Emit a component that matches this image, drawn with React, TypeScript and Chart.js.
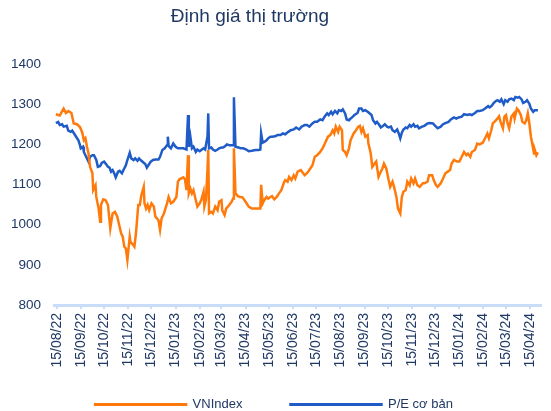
import React, { useEffect, useRef } from "react";
import { Chart, registerables } from "chart.js";

Chart.register(...registerables);

const TITLE = "Định giá thị trường";
const SERIES_NAMES = ["VNIndex", "P/E cơ bản"];
const BASE_DATE = "15/08/22"; // day 0 of the x values below

const tickLabels = [
  "15/08/22", "15/09/22", "15/10/22", "15/11/22", "15/12/22", "15/01/23", "15/02/23",
  "15/03/23", "15/04/23", "15/05/23", "15/06/23", "15/07/23", "15/08/23", "15/09/23",
  "15/10/23", "15/11/23", "15/12/23", "15/01/24", "15/02/24", "15/03/24", "15/04/24",
];

const Y_MIN = 800;
const Y_MAX = 1400;
const Y_STEP = 100;
const X_FIRST_DAY = -3.4; // 12/08/22
const X_LAST_DAY = 622.6; // ~29/04/24

// VNIndex: days since 15/08/22, and values
const vnDays = [
  -1, 4, 9, 12, 15, 19, 22, 26, 30, 33, 35, 37, 39, 41, 43, 46, 47, 50, 51, 54, 56, 57, 60, 63, 66, 68, 69, 72, 75, 78,
  80, 83, 85, 87, 89, 91, 94, 95, 97, 100, 102, 105, 107, 109, 112, 113, 115, 117, 119, 122, 125, 127, 131, 133, 135, 138,
  142, 144, 147, 150, 154, 156, 158, 163, 165, 167, 169, 170, 172, 174, 176, 179, 181, 184, 186, 189, 190, 192, 194, 195,
  196, 199, 201, 204, 207, 209, 212, 213, 216, 218, 222, 225, 227, 228, 230, 233, 236, 239, 243, 247, 251, 258, 262, 263,
  265, 267, 270, 272, 275, 277, 280, 283, 286, 289, 292, 294, 297, 299, 302, 305, 307, 310, 314, 319, 322, 325, 329, 332,
  335, 339, 342, 345, 349, 352, 355, 357, 359, 362, 364, 367, 368, 371, 373, 376, 378, 382, 385, 388, 390, 392, 394, 397,
  400, 401, 404, 406, 409, 411, 414, 416, 419, 421, 424, 427, 429, 432, 434, 437, 439, 442, 444, 446, 449, 451, 454, 456,
  459, 461, 464, 467, 471, 473, 477, 479, 483, 485, 488, 490, 494, 497, 500, 503, 506, 508, 511, 515, 518, 521, 524, 527,
  529, 532, 534, 538, 541, 544, 548, 551, 554, 556, 559, 561, 564, 566, 569, 571, 574, 576, 578, 580, 582, 585, 588, 589,
  592, 594, 597, 599, 602, 604, 606, 608, 610, 612, 614, 615, 617, 619,
];
const vnValues = [
  1275, 1272, 1289, 1278, 1283, 1278, 1252, 1250, 1243, 1229, 1210, 1215, 1194, 1177, 1144, 1128, 1086, 1098, 1069, 1040,
  1007, 1049, 1063, 1061, 1049, 1011, 991, 1028, 1032, 1020, 1003, 978, 970, 945, 941, 912, 970, 957, 953, 945, 978, 1049,
  1049, 1074, 1094, 1053, 1040, 1049, 1036, 1053, 1045, 1020, 1011, 987, 1016, 1028, 1053, 1069, 1053, 1057, 1069, 1107,
  1113, 1118, 1113, 1086, 1173, 1078, 1090, 1078, 1086, 1061, 1045, 1053, 1061, 1082, 1045, 1061, 1136, 1186, 1028, 1032,
  1028, 1045, 1036, 1057, 1061, 1036, 1024, 1040, 1049, 1057, 1065, 1190, 1078, 1071, 1069, 1068, 1057, 1045, 1040, 1040,
  1040, 1099, 1053, 1061, 1069, 1065, 1069, 1071, 1063, 1069, 1078, 1086, 1103, 1111, 1107, 1119, 1111, 1123, 1115, 1132,
  1136, 1123, 1128, 1136, 1148, 1169, 1173, 1181, 1190, 1202, 1219, 1223, 1235, 1227, 1244, 1231, 1244, 1235, 1186, 1181,
  1173, 1190, 1210, 1227, 1235, 1244, 1246, 1231, 1240, 1219, 1223, 1202, 1177, 1144, 1152, 1157, 1119, 1128, 1140, 1152,
  1140, 1111, 1094, 1107, 1094, 1069, 1040, 1028, 1069, 1082, 1086, 1107, 1098, 1115, 1103, 1115, 1098, 1094, 1103, 1103,
  1107, 1123, 1123, 1111, 1098, 1094, 1103, 1115, 1128, 1132, 1136, 1152, 1161, 1157, 1157, 1169, 1181, 1173, 1177, 1169,
  1181, 1186, 1202, 1200, 1204, 1215, 1227, 1215, 1235, 1252, 1258, 1262, 1270, 1256, 1240, 1269, 1273, 1252, 1240, 1269,
  1277, 1264, 1289, 1285, 1273, 1256, 1252, 1260, 1277, 1252, 1219, 1198, 1177, 1186, 1173, 1180,
];

// P/E cơ bản: days since 15/08/22, and values
const peDays = [
  -1, 2, 4, 7, 9, 13, 15, 18, 20, 23, 25, 28, 30, 31, 34, 35, 37, 39, 41, 43, 46, 48, 51, 53, 56, 58, 61, 63, 66, 68, 70,
  72, 74, 76, 79, 81, 84, 86, 89, 91, 94, 96, 99, 101, 104, 106, 109, 112, 114, 116, 118, 121, 124, 127, 131, 133, 136,
  139, 142, 143, 144, 147, 150, 153, 156, 158, 163, 167, 169, 170, 172, 174, 176, 179, 181, 184, 186, 189, 191, 194, 195,
  196, 199, 201, 204, 207, 209, 212, 214, 217, 219, 222, 224, 227, 228, 230, 234, 237, 240, 244, 247, 251, 256, 260, 262,
  263, 265, 267, 270, 272, 275, 277, 281, 284, 288, 291, 294, 298, 301, 305, 308, 312, 315, 319, 322, 325, 329, 332, 335,
  339, 342, 345, 348, 350, 353, 355, 358, 361, 363, 366, 368, 371, 373, 376, 378, 381, 383, 387, 389, 392, 394, 397, 400,
  402, 405, 407, 410, 412, 415, 417, 420, 422, 425, 427, 430, 432, 435, 438, 440, 442, 444, 446, 449, 451, 454, 456, 459,
  461, 464, 466, 470, 473, 477, 480, 484, 487, 490, 494, 497, 500, 504, 507, 511, 514, 517, 521, 524, 528, 531, 534, 538,
  541, 544, 548, 551, 555, 557, 560, 562, 565, 567, 570, 572, 575, 577, 580, 582, 585, 588, 590, 593, 595, 598, 600, 603,
  605, 608, 610, 613, 615, 619,
];
const peValues = [
  1253, 1256, 1248, 1250, 1244, 1246, 1234, 1231, 1234, 1225, 1219, 1210, 1198, 1190, 1194, 1181, 1173, 1165, 1157, 1169,
  1173, 1173, 1161, 1144, 1146, 1154, 1157, 1152, 1144, 1142, 1132, 1136, 1128, 1118, 1132, 1134, 1128, 1136, 1148, 1161,
  1179, 1165, 1161, 1165, 1159, 1165, 1159, 1154, 1151, 1142, 1148, 1157, 1161, 1162, 1162, 1169, 1186, 1190, 1198, 1219,
  1196, 1190, 1202, 1194, 1190, 1190, 1190, 1187, 1273, 1194, 1219, 1190, 1194, 1181, 1187, 1183, 1186, 1190, 1187, 1219,
  1277, 1190, 1192, 1187, 1184, 1187, 1190, 1192, 1192, 1196, 1200, 1198, 1198, 1198, 1317, 1194, 1192, 1190, 1190, 1187,
  1183, 1184, 1186, 1186, 1187, 1227, 1204, 1206, 1210, 1215, 1219, 1219, 1220, 1223, 1223, 1227, 1225, 1231, 1235, 1237,
  1242, 1237, 1244, 1248, 1248, 1244, 1252, 1256, 1256, 1262, 1260, 1270, 1277, 1273, 1281, 1275, 1283, 1277, 1285, 1283,
  1287, 1277, 1262, 1260, 1264, 1269, 1273, 1278, 1289, 1289, 1283, 1285, 1281, 1278, 1273, 1260, 1252, 1256, 1248, 1242,
  1246, 1250, 1244, 1242, 1244, 1235, 1231, 1237, 1227, 1215, 1229, 1237, 1242, 1240, 1248, 1244, 1250, 1244, 1246, 1240,
  1244, 1246, 1252, 1253, 1252, 1246, 1240, 1244, 1250, 1253, 1256, 1262, 1267, 1264, 1267, 1269, 1275, 1273, 1275, 1273,
  1278, 1283, 1283, 1285, 1289, 1295, 1292, 1297, 1303, 1308, 1310, 1306, 1312, 1300, 1310, 1306, 1312, 1314, 1310, 1318,
  1316, 1318, 1312, 1303, 1306, 1310, 1301, 1289, 1281, 1285, 1285,
];

const ORANGE = "#FF7A0A";
const BLUE = "#1F5CC8";
const NAVY = "#1F3864";
const AXIS_BLUE = "#C9DCF8";
const FONT = "'Liberation Sans', Arial, sans-serif";

function parseDay(label: string): number {
  const [d, m, y] = label.split("/").map(Number);
  return Date.UTC(2000 + y, m - 1, d) / 86400000;
}
const baseDay = parseDay(BASE_DATE);
const tickDays = tickLabels.map((l) => Math.round(parseDay(l) - baseDay));

export default function App() {
  const canvasRef = useRef<HTMLCanvasElement | null>(null);

  useEffect(() => {
    const canvas = canvasRef.current;
    if (!canvas) return;
    Chart.defaults.font.family = FONT;
    const chart = new Chart(canvas, {
      type: "line",
      data: {
        datasets: [
          {
            label: SERIES_NAMES[0],
            data: vnDays.map((d, i) => ({ x: d, y: vnValues[i] })),
            borderColor: ORANGE,
            backgroundColor: ORANGE,
            borderWidth: 2.5,
            pointRadius: 0,
            tension: 0,
          },
          {
            label: SERIES_NAMES[1],
            data: peDays.map((d, i) => ({ x: d, y: peValues[i] })),
            borderColor: BLUE,
            backgroundColor: BLUE,
            borderWidth: 2.5,
            pointRadius: 0,
            tension: 0,
          },
        ],
      },
      options: {
        responsive: false,
        animation: false,
        events: [],
        layout: { padding: { left: 0, right: 3, top: 64, bottom: -10 } },
        plugins: {
          title: { display: false },
          tooltip: { enabled: false },
          legend: {
            position: "bottom",
            labels: {
              boxWidth: 91,
              boxHeight: 0.5,
              padding: 48,
              color: NAVY,
              font: { family: FONT, size: 13 },
            },
          },
        },
        scales: {
          x: {
            type: "linear",
            min: X_FIRST_DAY,
            max: X_LAST_DAY,
            afterBuildTicks: (scale: any) => {
              scale.ticks = tickDays.map((v) => ({ value: v }));
            },
            afterFit: (scale: any) => {
              // rotated date labels run down into the legend band, as in the original
              scale.height = 45;
              scale._computeLabelArea = () => null;
            },
            ticks: {
              autoSkip: false,
              minRotation: 90,
              maxRotation: 90,
              padding: 4,
              color: NAVY,
              font: { family: FONT, size: 14 },
              callback: (_v: any, i: number) => tickLabels[i],
            },
            grid: {
              display: true,
              drawOnChartArea: false,
              drawTicks: true,
              tickLength: 4,
              color: AXIS_BLUE,
              lineWidth: 2,
            },
            border: { display: true, color: AXIS_BLUE, width: 3 },
          },
          y: {
            min: Y_MIN,
            max: Y_MAX,
            afterFit: (scale: any) => {
              scale.width = 54;
            },
            ticks: {
              stepSize: Y_STEP,
              padding: 13,
              color: NAVY,
              font: { family: FONT, size: 13.5 },
              callback: (v: any) => String(v),
            },
            grid: { display: false, drawTicks: false },
            border: { display: false },
          },
        },
      },
    } as any);
    return () => chart.destroy();
  }, []);

  return (
    <div style={{ position: "absolute", left: 0, top: 0, width: 551, height: 411, background: "#fff" }}>
      <div
        style={{
          position: "absolute",
          left: 0,
          top: 5,
          width: 500,
          textAlign: "center",
          fontFamily: FONT,
          fontSize: 19,
          lineHeight: "22px",
          color: NAVY,
        }}
      >
        {TITLE}
      </div>
      <canvas ref={canvasRef} width={551} height={411} style={{ display: "block" }} />
    </div>
  );
}
